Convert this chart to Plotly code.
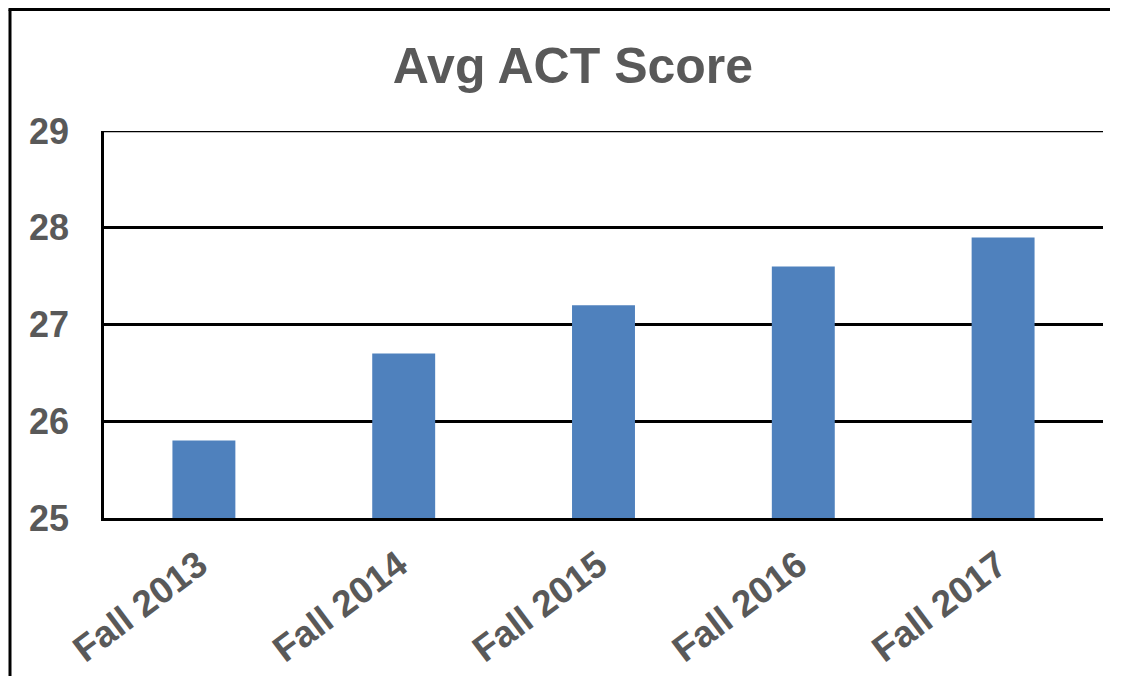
import plotly.graph_objects as go

categories = ["Fall 2013", "Fall 2014", "Fall 2015", "Fall 2016", "Fall 2017"]
avg_act = [25.8, 26.7, 27.2, 27.6, 27.9]
y_ticks = [25, 26, 27, 28, 29]

OFF = 8  # page body margin
W, H = 1122 - 2 * OFF, 684 - 2 * OFF
L, T = 104 - OFF, 131 - OFF
R = W - (1103 - OFF)
B = H - (518 - OFF)
pw, ph = W - L - R, H - T - B

def px_x(p):
    return (p - OFF - L) / pw

def px_y(p):
    return (H - B - (p - OFF)) / ph

fig = go.Figure(go.Bar(x=categories, y=avg_act, marker=dict(color="#4F81BD", line=dict(width=0))))

font_family = "Liberation Sans, Arial, sans-serif"
grey = "#595959"

fig.update_layout(
    template="none",
    width=W, height=H,
    margin=dict(l=L, r=R, t=T, b=B, autoexpand=False),
    paper_bgcolor="white", plot_bgcolor="white",
    bargap=0.685,
    showlegend=False,
    title=dict(text="<b>Avg ACT Score</b>", x=(573 - OFF) / W, xref="container", xanchor="center",
               y=1 - (65 - OFF) / H, yref="container", yanchor="middle",
               font=dict(family=font_family, size=50, color=grey)),
    font=dict(family=font_family, color=grey),
)
fig.update_yaxes(range=[25, 29], tickvals=y_ticks, ticktext=[f"<b>{v}</b>" for v in y_ticks],
                 showgrid=True, gridcolor="black", gridwidth=2.5,
                 showline=True, linecolor="black", linewidth=2.5, automargin=False,
                 zeroline=False, ticks="", ticklabelstandoff=25,
                 tickfont=dict(family=font_family, size=36, color=grey))
fig.update_xaxes(tickangle=-37, ticktext=[f"<b>{c}</b>" for c in categories], tickvals=categories,
                 showline=True, linecolor="black", linewidth=2.5, ticks="", automargin=False,
                 showgrid=False, zeroline=False,
                 ticklabelstandoff=8, ticklabelshift=-5,
                 tickfont=dict(family=font_family, size=37, color=grey))

# top gridline at the axis maximum (plotly omits the edge gridline)
fig.add_shape(type="line", xref="paper", yref="y", x0=0, x1=1, y0=y_ticks[-1], y1=y_ticks[-1],
              line=dict(color="black", width=2.5), layer="above")

# outer frame: top edge as a thin filled band, left edge as a line
fig.add_shape(type="rect", xref="paper", yref="paper",
              x0=px_x(8.5), x1=px_x(1110), y0=px_y(11), y1=px_y(8),
              line=dict(width=0), fillcolor="black", layer="above")
fig.add_shape(type="line", xref="paper", yref="paper",
              x0=px_x(10), x1=px_x(10), y0=px_y(9.5), y1=px_y(800),
              line=dict(color="black", width=3), layer="above")

fig.write_html("out.html")
